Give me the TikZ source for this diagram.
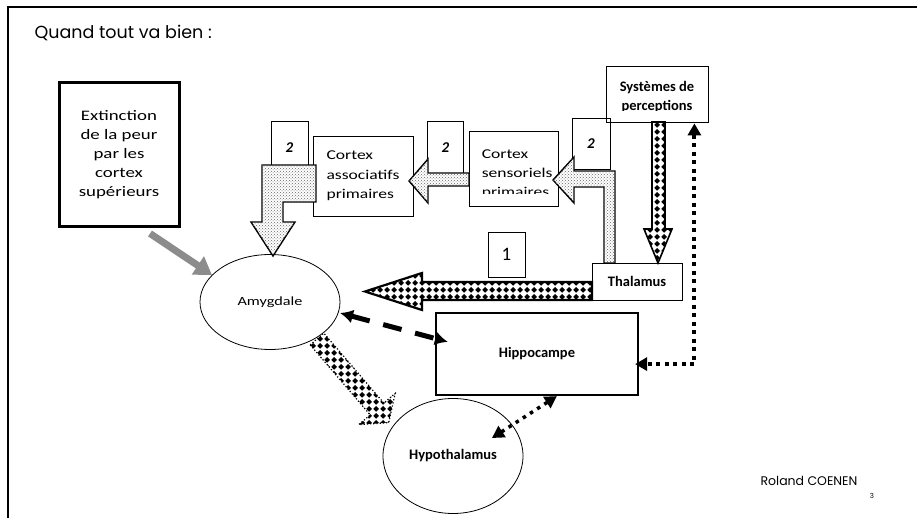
\documentclass[tikz,border=0pt]{standalone}
\usepackage{fontspec}
\setmainfont{Carlito}
\newfontfamily\widefont[FakeStretch=1.3]{Carlito}
\newfontfamily\titlefont{Poppins}
\usetikzlibrary{patterns,patterns.meta,arrows.meta,calc,shapes.geometric}
\tikzdeclarepattern{
  name=diamondcheck,
  type=uncolored,
  bottom left={(0pt,0pt)},
  top right={(6.6pt,6.6pt)},
  tile size={(6.6pt,6.6pt)},
  code={\fill (3.3pt,0.3pt)--(6.3pt,3.3pt)--(3.3pt,6.3pt)--(0.3pt,3.3pt)--cycle;}
}
\tikzset{
  box/.style={draw, line width=0.8pt, inner sep=0pt, align=left},
  numbox/.style={draw, line width=0.8pt, inner sep=0pt, font=\fontsize{15}{16}\selectfont\bfseries\itshape},
  oval/.style={draw, ellipse, line width=0.8pt, inner sep=0pt},
  boldlab/.style={font=\fontsize{14.5}{19}\selectfont\bfseries},
  checkarrow/.style={draw, line width=2.2pt, line join=miter, fill=white, postaction={pattern=diamondcheck, pattern color=black}},
  dotsarrow/.style={draw, line width=1.4pt, line join=miter, fill=white, postaction={pattern=crosshatch dots, pattern color=black!60}},
  dasharrow/.style={line width=5pt, dash pattern=on 19pt off 14pt, {Latex[length=13pt,width=14pt]}-{Latex[length=13pt,width=14pt]}},
  dotarrow/.style={line width=4pt, dash pattern=on 4pt off 4.5pt, {Triangle[length=12pt,width=13pt]}-{Triangle[length=12pt,width=13pt]}},
  grayarrow/.style={draw=black!45, line width=7pt, -{Triangle[length=17pt,width=21pt]}},
}
\begin{document}
\begin{tikzpicture}[x=1pt,y=-1pt]
\useasboundingbox (0,0) rectangle (917,518);
\fill[white] (0,0) rectangle (917,518);
% frame
\draw[line width=2.5pt] (8,518) -- (8,7) -- (917,7);
% title
\node[anchor=west, font=\titlefont\fontsize{17.5}{20}\selectfont] (title) at (31,33) {Quand tout va bien :};
% boxes
\node[box, line width=3pt, minimum width=120pt, minimum height=144pt, align=center,
      font=\widefont\fontsize{14.5}{19}\selectfont] (ext) at (119,155)
      {Extinction\\de la peur\\par les\\cortex\\supérieurs};
\node[numbox, minimum width=37pt, minimum height=54pt] (n2a) at (289.5,148) {2};
\node[box, minimum width=100pt, minimum height=80pt, font=\widefont\fontsize{13.5}{19.5}\selectfont] (cas) at (363,176)
      {Cortex\\associatifs\\primaires};
\node[numbox, minimum width=36pt, minimum height=54pt] (n2b) at (445.5,148) {2};
\node[box, minimum width=89pt, minimum height=75pt] (css) at (513.5,168.5) {};
\begin{scope}
  \clip (css.north west) rectangle ($(css.south east)+(0,-13)$);
  \node[anchor=north west, align=left, inner sep=0pt, font=\widefont\fontsize{13.5}{19}\selectfont] (csst) at ($(css.north west)+(13,19)$)
      {Cortex\\sensoriels\\primaires};
\end{scope}
\node[numbox, minimum width=38pt, minimum height=51pt] (n2c) at (591,143.5) {2};
\node[box, minimum width=102pt, minimum height=56pt] (sys) at (657,94) {};
\begin{scope}
  \clip (sys.north west) rectangle ($(sys.south east)+(0,-12)$);
  \node[anchor=north, align=center, inner sep=0pt, boldlab] (syst) at ($(sys.north)+(0,16)$)
      {Systèmes de\\perceptions};
\end{scope}
\node[box, minimum width=90pt, minimum height=37pt, boldlab] (thal) at (637,281.5) {Thalamus};
\node[box, minimum width=37pt, minimum height=45pt, font=\fontsize{19}{20}\selectfont] (one) at (506.5,254.5) {1};
\node[oval, minimum width=140pt, minimum height=95pt, font=\widefont\fontsize{12.5}{14}\selectfont] (amy) at (270,302) {Amygdale};
\node[box, line width=2.2pt, minimum width=202pt, minimum height=82pt, boldlab] (hip) at (537,354) {Hippocampe};
\node[oval, minimum width=140pt, minimum height=115pt, boldlab] (hyp) at (453,456) {Hypothalamus};
% footer
\node[font=\titlefont\fontsize{12.5}{14}\selectfont] (author) at (809,481) {Roland COENEN};
\node[font=\titlefont\fontsize{7}{8}\selectfont] (page) at (872,496) {3};
% fat arrows
\path[checkarrow] (592,282) -- (422,282) -- (422,273) -- (365,291.5) -- (422,310) -- (422,300) -- (592,300) -- cycle;
\path[checkarrow, line width=1.6pt] (652,122) -- (652,229) -- (644,229) -- (658,263) -- (672,229) -- (665,229) -- (665,122) -- cycle;
\path[checkarrow, line width=1.2pt, dotted] (310.2,344.9) -- (370.2,414.9) -- (358.8,424.6) -- (388.7,422.7) -- (395.2,393.4) -- (383.8,403.1) -- (323.8,333.1) -- cycle;
\path[dotsarrow] (469,173) -- (428,173) -- (428,159) -- (409,181) -- (428,203) -- (428,186) -- (469,186) -- cycle;
\path[dotsarrow] (604,263) -- (604,187) -- (574,187) -- (574,203) -- (553,180) -- (574,157) -- (574,171) -- (615,171) -- (615,263) -- cycle;
\path[dotsarrow] (316,165) -- (262,165) -- (262,222) -- (251,222) -- (273,256) -- (295,222) -- (283,222) -- (283,202) -- (316,202) -- cycle;
% thin connectors
\draw[grayarrow] ($(ext.south)+(31,5)$) -- (amy.155);
\draw[dasharrow] ($(amy.center)+(70,11)$) -- ($(hip.north west)+(13,30)$);
\draw[dotarrow] ($(sys.south east)+(-14,1)$) |- ($(hip.south east)+(-4,-32)$);
\draw[line width=3.5pt, dash pattern=on 3.5pt off 5pt, {Triangle[length=12pt,width=13pt]}-{Triangle[length=12pt,width=13pt]}]
  ($(hyp.center)+(39,-18)$) -- ($(hip.south west)+(122,0)$);
\end{tikzpicture}
\end{document}
